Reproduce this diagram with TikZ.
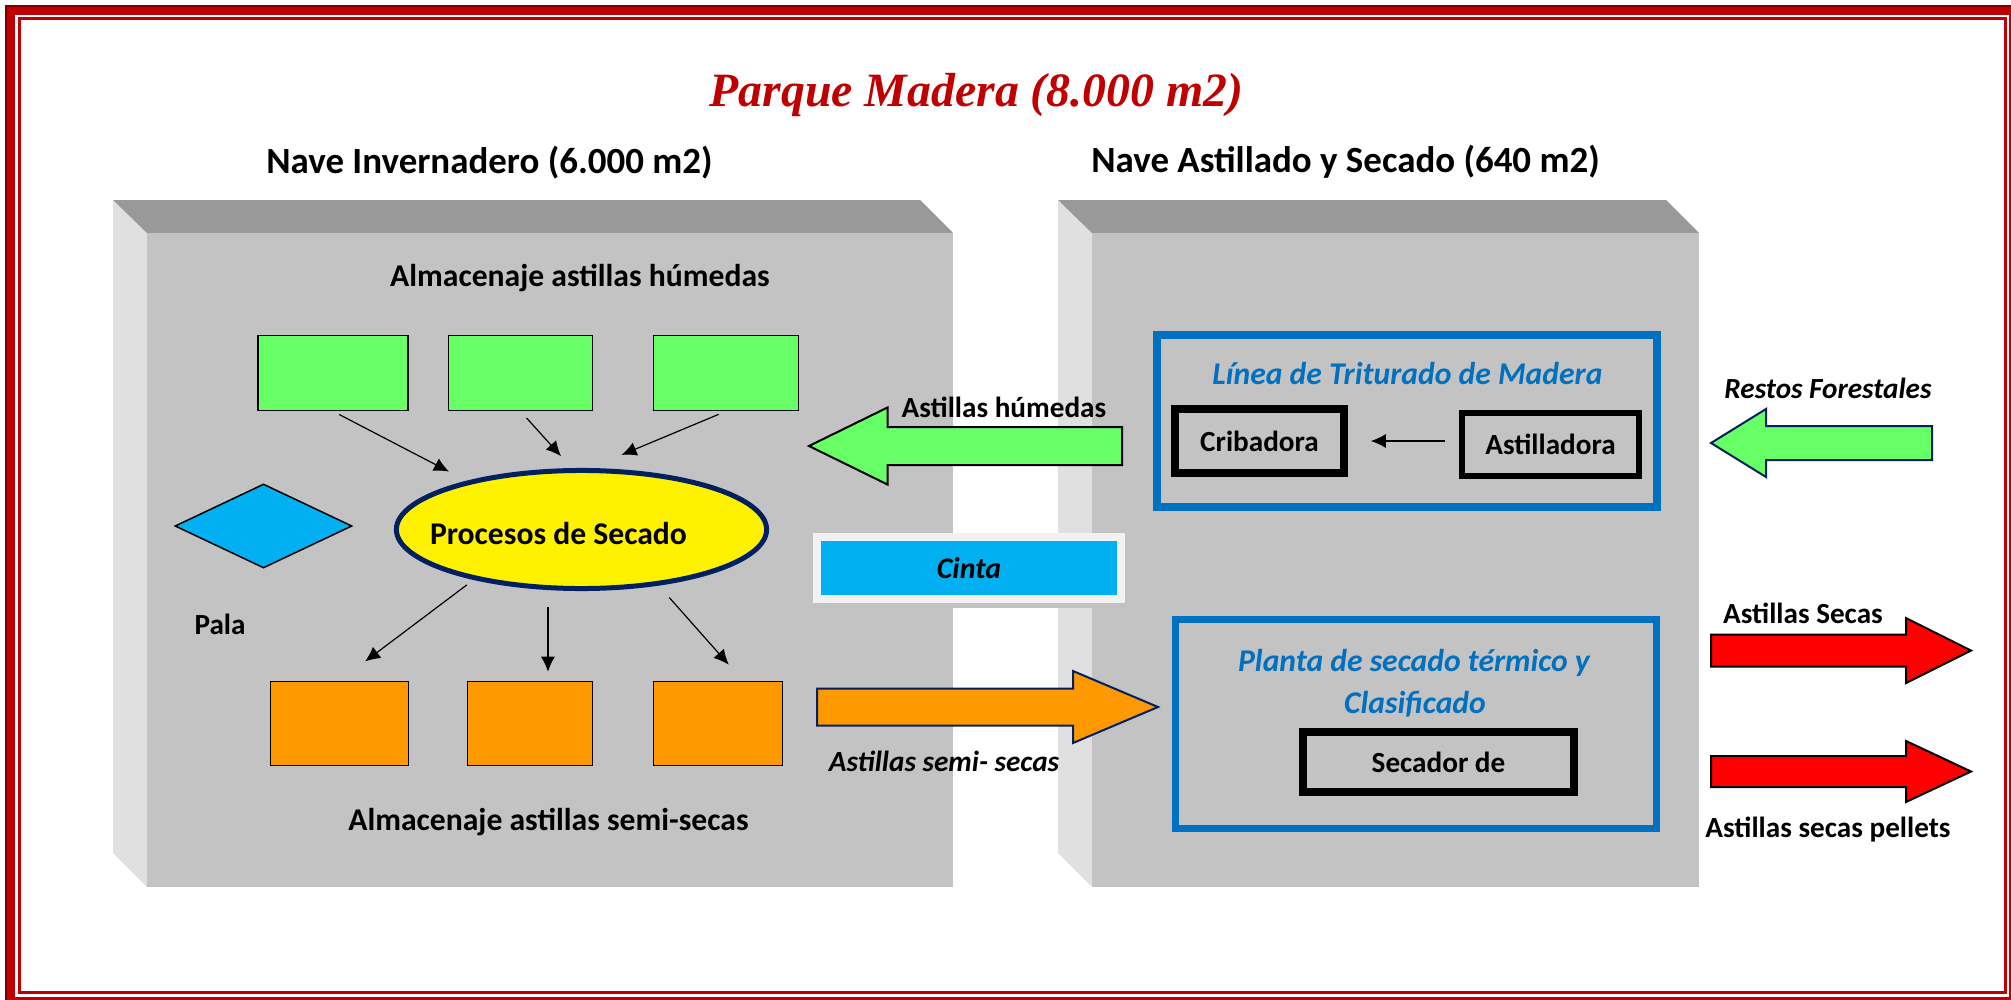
\documentclass[tikz,border=0pt]{standalone}
\usepackage{fontspec}
\setmainfont{Carlito}
\newfontfamily\titlefont{Liberation Serif}
\usepackage{tikz}
\usetikzlibrary{shapes,arrows.meta}
\definecolor{framered}{HTML}{C00000}
\definecolor{framedark}{HTML}{7F0000}
\definecolor{roofgray}{HTML}{999999}
\definecolor{wallgray}{HTML}{C3C3C3}
\definecolor{sidegray}{HTML}{E0E0E0}
\definecolor{wetgreen}{HTML}{66FF66}
\definecolor{semiorange}{HTML}{FF9900}
\definecolor{drynavy}{HTML}{002060}
\definecolor{palablue}{HTML}{00B0F0}
\definecolor{lineblue}{HTML}{0070C0}
\definecolor{cintaframe}{HTML}{F2F2F2}
\definecolor{shadowgray}{HTML}{A6A6A6}
\def\leftroof{(113,200) -- (920,200) -- (953,233) -- (147,233) -- cycle}
\def\leftside{(113,200) -- (147,233) -- (147,887) -- (113,853) -- cycle}
\def\leftfront{(147,233) rectangle (953,887)}
\def\rightroof{(1058,200) -- (1666,200) -- (1699,233) -- (1092,233) -- cycle}
\def\rightside{(1058,200) -- (1092,233) -- (1092,887) -- (1058,853) -- cycle}
\def\rightfront{(1092,233) rectangle (1699,887)}
\def\blockarrow#1#2#3#4#5#6{(#1,#4-#5) -- (#2,#4-#5) -- (#2,#4-#6) -- (#3,#4) -- (#2,#4+#6) -- (#2,#4+#5) -- (#1,#4+#5) -- cycle}
\tikzset{
	navetitle/.style={inner sep=0pt, anchor=base, font=\fontsize{10.5}{12}\selectfont\bfseries},
	storelabel/.style={inner sep=0pt, anchor=base, font=\fontsize{9}{11}\selectfont\bfseries},
	flowlabel/.style={inner sep=0pt, anchor=base, font=\fontsize{8.3}{10}\selectfont\bfseries},
	iflowlabel/.style={flowlabel, font=\fontsize{8.3}{10}\selectfont\bfseries\itshape},
	zonetitle/.style={inner sep=0pt, anchor=base, text=lineblue, font=\fontsize{9}{11}\selectfont\bfseries\itshape},
	pile/.style={draw, line width=0.015cm, inner sep=0pt},
	wetpile/.style={pile, fill=wetgreen, minimum height=0.75cm},
	drypile/.style={pile, fill=semiorange, minimum height=0.84cm},
	machine/.style={draw, fill=wallgray, inner sep=0pt, font=\fontsize{8.3}{10}\selectfont\bfseries},
	zone/.style={draw=lineblue, inner sep=0pt},
	feed/.style={-{Latex[length=0.15cm,width=0.14cm]}, line width=0.012cm},
}

\begin{document}
\begin{tikzpicture}[x=0.01cm, y=-0.01cm]
	\useasboundingbox (0,0) rectangle (2011,1000);
	% marco
	\draw[framered, line width=0.095cm] (10.5,10) rectangle (2013.5,1001.5);
	\draw[framedark, line width=0.025cm] (6,1010) -- (6,6) -- (2020,6);
	\draw[framered, line width=0.03cm] (19.5,18.5) rectangle (2005.5,992.5);
	\node[font=\titlefont\bfseries\itshape\fontsize{13.6}{16}\selectfont, text=framered, inner sep=0pt, anchor=base] (parque) at (976.5,106) {Parque Madera (8.000 m2)};
	\node[navetitle] (invernadero) at (489.5,173) {Nave Invernadero (6.000 m2)};
	\node[navetitle] (astillado) at (1345.5,172) {Nave Astillado y Secado (640 m2)};

	% naves
	\fill[sidegray] \leftside;
	\fill[roofgray] \leftroof;
	\fill[wallgray] \leftfront;
	\fill[sidegray] \rightside;
	\fill[roofgray] \rightroof;
	\fill[wallgray] \rightfront;

	% nave invernadero
	\node[storelabel] (humedas) at (580,286) {Almacenaje astillas húmedas};
	\node[wetpile, minimum width=1.5cm] (gb1) at (333,373) {};
	\node[wetpile, minimum width=1.44cm] (gb2) at (520.5,373) {};
	\node[wetpile, minimum width=1.45cm] (gb3) at (726,373) {};
	\node[ellipse, draw=drynavy, line width=0.05cm, fill=yellow, minimum width=3.7cm, minimum height=1.18cm, inner sep=0pt] (procesos) at (581.5,529.5) {};
	\node[storelabel] (procesostxt) at (558.5,544) {Procesos de Secado};
	\node[diamond, draw, fill=palablue, line width=0.015cm, minimum width=1.77cm, minimum height=0.84cm, inner sep=0pt] (pala) at (263.5,526) {};
	\node[flowlabel] (palatxt) at (220,634) {Pala};
	\node[drypile, minimum width=1.38cm] (ob1) at (339.5,723.5) {};
	\node[drypile, minimum width=1.25cm] (ob2) at (530,723.5) {};
	\node[drypile, minimum width=1.29cm] (ob3) at (718,723.5) {};
	\node[storelabel] (semisecas) at (548.5,830) {Almacenaje astillas semi-secas};
	\draw[feed, shorten <=0.07cm, shorten >=0.2cm] (gb1.south) -- (procesos.157);
	\draw[feed, shorten <=0.09cm, shorten >=0.16cm] (gb2.south) -- (procesos.99);
	\draw[feed, shorten <=0.08cm, shorten >=0.34cm] (gb3.south) -- (procesos.82);
	\draw[feed, shorten <=0.085cm, shorten >=0.32cm] (procesos.205) -- (ob1.north);
	\draw[feed, shorten <=0.17cm, shorten >=0.09cm] (procesos.241) -- (procesos.241 |- ob2.north);
	\draw[feed, shorten <=0.16cm, shorten >=0.215cm] (procesos.324) -- ([xshift=0.25cm]ob3.north);

	% entre naves
	\filldraw[fill=wetgreen, draw=black, line width=0.02cm] \blockarrow{1122}{887.5}{809}{446}{19}{38.5};
	\node[flowlabel] (astillashum) at (1004,417) {Astillas húmedas};
	\node[draw=cintaframe, line width=0.08cm, fill=palablue, minimum width=3.045cm, minimum height=0.62cm, inner sep=0pt, font=\fontsize{8.5}{10}\selectfont\bfseries\itshape] (cinta) at (969,568) {Cinta};
	\fill[shadowgray!70] (cinta.south west) rectangle ([yshift=-0.05cm]cinta.south east);
	\filldraw[fill=semiorange, draw=drynavy, line width=0.02cm] \blockarrow{817}{1073}{1158}{707}{18.5}{36};
	\node[iflowlabel] (astillassemi) at (944,771) {Astillas semi- secas};

	% nave astillado
	\node[zone, line width=0.075cm, minimum width=5cm, minimum height=1.72cm] (trituradora) at (1407,421) {};
	\node[zonetitle] (lineatxt) at (1407.5,384) {Línea de Triturado de Madera};
	\node[machine, line width=0.075cm, minimum width=1.69cm, minimum height=0.64cm] (cribadora) at (1259.5,441) {Cribadora};
	\node[machine, line width=0.055cm, minimum width=1.77cm, minimum height=0.63cm] (astilladora) at (1550.5,444.5) {Astilladora};
	\draw[feed, shorten <=0.14cm, shorten >=0.23cm] (astilladora.west |- cribadora.east) -- (cribadora.east);
	\node[zone, line width=0.07cm, minimum width=4.81cm, minimum height=2.09cm] (planta) at (1416,724) {};
	\node[zonetitle] (plantatxt) at (1414,671) {Planta de secado térmico y};
	\node[zonetitle] (clasificado) at (1415,713) {Clasificado};
	\node[machine, line width=0.08cm, minimum width=2.71cm, minimum height=0.6cm] (secador) at (1438.5,762) {Secador de};

	% entradas y salidas
	\filldraw[fill=wetgreen, draw=drynavy, line width=0.02cm] \blockarrow{1932}{1766}{1711}{443}{17}{34};
	\node[iflowlabel] (restos) at (1828,398) {Restos Forestales};
	\filldraw[fill=red, draw=black, line width=0.02cm] \blockarrow{1711}{1906}{1971}{650.5}{16}{32.5};
	\node[flowlabel] (secas) at (1803,623) {Astillas Secas};
	\filldraw[fill=red, draw=black, line width=0.02cm] \blockarrow{1711}{1906}{1971}{771.5}{15.5}{30.5};
	\node[flowlabel] (pellets) at (1828,837) {Astillas secas pellets};
\end{tikzpicture}
\end{document}
